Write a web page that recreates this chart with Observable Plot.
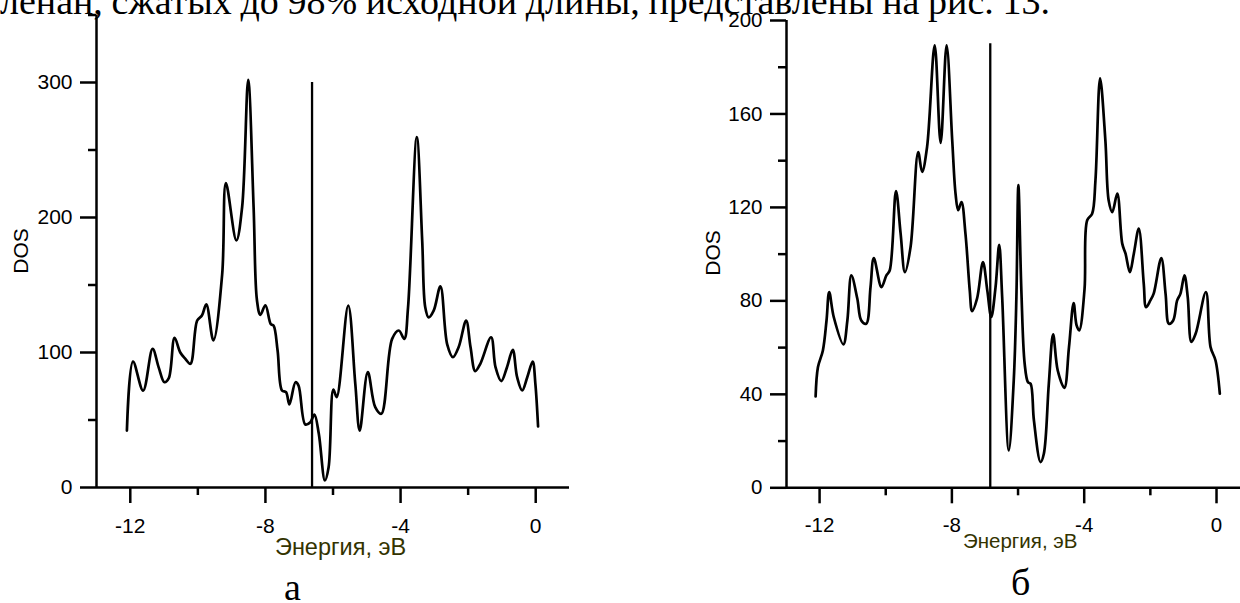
<!DOCTYPE html>
<html>
<head>
<meta charset="utf-8">
<script src="https://cdn.jsdelivr.net/npm/d3@7"></script>
<script src="https://cdn.jsdelivr.net/npm/@observablehq/plot@0.6"></script>
<style>
  html, body { margin: 0; padding: 0; background: #ffffff; }
  #page { position: relative; width: 1240px; height: 603px; overflow: hidden; background: #ffffff; }
  .abs { position: absolute; white-space: nowrap; line-height: 1; }
  .sans { font-family: "Liberation Sans", Arial, sans-serif; color: #000; }
  .serif { font-family: "Liberation Serif", "Times New Roman", serif; color: #000; }
  .xt { color: #333300; }
  .rot { transform: translate(-50%, -50%) rotate(-90deg); }
  svg { overflow: visible; }
</style>
</head>
<body>
<div id="page">
  <div id="chartA" class="abs" style="left:0;top:0"></div>
  <div id="chartB" class="abs" style="left:620px;top:0"></div>
  <div id="topline" class="abs serif" style="left:0;top:-18px;font-size:38px">ленан, сжатых до 98% исходной длины, представлены на рис. 13.</div>
  <div class="abs sans rot" style="left:20px;top:251px;font-size:21px">DOS</div>
  <div class="abs sans rot" style="left:712px;top:253px;font-size:21px">DOS</div>
  <div class="abs sans xt" style="left:275px;top:535.5px;font-size:23.5px">Энергия, эВ</div>
  <div class="abs sans xt" style="left:963px;top:531px;font-size:20.5px">Энергия, эВ</div>
  <div class="abs serif" style="left:284px;top:568px;font-size:38px">а</div>
  <div class="abs serif" style="left:1011px;top:563px;font-size:38px">б</div>
</div>
<script>
// ---- data: panel а ----
const energyA = [-12.10,-11.92,-11.62,-11.34,-11.16,-10.99,-10.86,-10.69,-10.52,-10.37,-10.22,-10.02,-9.88,-9.75,-9.54,-9.28,-9.17,-8.86,-8.69,-8.51,-8.35,-8.25,-8.15,-8.00,-7.84,-7.76,-7.64,-7.51,-7.39,-7.29,-7.11,-7.02,-6.82,-6.67,-6.55,-6.42,-6.24,-6.13,-5.99,-5.89,-5.55,-5.34,-5.21,-4.97,-4.75,-4.57,-4.25,-4.05,-3.89,-3.78,-3.52,-3.36,-3.27,-3.17,-3.02,-2.82,-2.62,-2.45,-2.28,-2.06,-1.93,-1.79,-1.64,-1.32,-1.19,-1.02,-0.85,-0.68,-0.55,-0.40,-0.25,-0.09,-0.01,0.07];
const dosA = [42.2,93.3,71.8,102.7,89,78,81,110.9,100,95.3,91.6,123.7,127.4,135.6,109,158,225.4,183,207.6,302,207.6,138.5,127.9,135,121,120,101.5,71.9,70.6,61.5,78,75.5,46.7,48.4,54,39.8,5.2,15,72.5,67,134.8,76.8,42.2,85.4,59.5,54.6,110.1,116.3,110.1,133,259.5,183,133.5,126,131,149,106,96.5,104,123.7,104,86.2,91.6,111.3,89.1,78.8,89.1,102,81.7,71.9,81.7,93.3,76.8,45.2];
const markerA = [{e: -6.62, top: 300}];

// ---- data: panel б ----
const energyB = [-12.12,-12.05,-11.90,-11.79,-11.71,-11.57,-11.28,-11.16,-11.04,-10.86,-10.74,-10.59,-10.46,-10.36,-10.13,-9.98,-9.88,-9.69,-9.55,-9.42,-9.25,-9.02,-8.90,-8.75,-8.52,-8.34,-8.16,-7.99,-7.89,-7.81,-7.71,-7.59,-7.46,-7.39,-7.24,-7.06,-6.93,-6.81,-6.68,-6.57,-6.48,-6.28,-6.13,-6.05,-5.99,-5.90,-5.80,-5.70,-5.62,-5.52,-5.32,-5.22,-5.07,-4.94,-4.80,-4.60,-4.46,-4.32,-4.23,-4.15,-3.99,-3.91,-3.76,-3.66,-3.52,-3.36,-3.26,-3.15,-3.00,-2.85,-2.75,-2.62,-2.50,-2.35,-2.20,-2.13,-2.00,-1.90,-1.67,-1.54,-1.44,-1.31,-1.19,-1.09,-0.97,-0.87,-0.76,-0.63,-0.32,-0.18,-0.03,0.10];
const dosB = [39.1,51.6,58.8,71.6,83.8,73,61.4,71.6,90.9,81,71.6,70.2,85.9,98.3,85.9,90.9,93,127,108.8,92.3,103,143.7,135.2,145.9,189.4,147.6,189.4,148.7,125.9,118.8,122.3,108.8,84.5,75.6,81,96.6,84.5,73.1,85.9,104,81.6,16,46,81.6,129.5,84.5,53.1,45.2,44.5,28.8,11,14.6,44.5,65.7,50.2,42.8,60.2,79.1,69.5,67.4,85,114.5,117.3,131.6,175.2,148.7,123,118,125.9,104.5,100.2,92.3,100.2,110.9,87.4,77.3,80.2,83.1,98.3,83,70.2,71.6,80.2,83.1,90.9,81.6,62.4,66,83.8,60.2,54.5,40.3];
const markerB = [{e: -6.84, top: 190}];

// ---- tick values ----
const xMajorTicks = [-12, -8, -4, 0];
const xMinorTicks = [-10, -6, -2];
const yMajorA = [0, 100, 200, 300];
const yMinorA = [50, 150, 250, 350];
const yMajorB = [0, 40, 80, 120, 160, 200];
const yMinorB = [20, 60, 100, 140, 180];

const tableA = energyA.map((e, i) => ({e, d: dosA[i]}));
const tableB = energyB.map((e, i) => ({e, d: dosB[i]}));

const SW = 2.5;
function panel({data, marker, width, marginLeft, marginRight, marginTop, marginBottom, xDomain, yDomain, yMajor, yMinor, fontSize, xPad}) {
  return Plot.plot({
    width, height: 603, marginLeft, marginRight, marginTop, marginBottom,
    x: {domain: xDomain},
    y: {domain: yDomain},
    style: {fontFamily: '"Liberation Sans", Arial, sans-serif', fontSize: fontSize + "px", color: "#000", background: "transparent", overflow: "visible"},
    marks: [
      Plot.axisX({ticks: xMajorTicks, tickSize: 16, tickPadding: xPad, strokeWidth: SW, label: null, tickFormat: d => String(d), fontSize}),
      Plot.axisX({ticks: xMinorTicks, tickSize: 8, strokeWidth: SW, label: null, tickFormat: () => ""}),
      Plot.axisY({ticks: yMajor, tickSize: 16, tickPadding: 8, strokeWidth: SW, label: null, tickFormat: d => String(d), fontSize}),
      Plot.axisY({ticks: yMinor, tickSize: 8, strokeWidth: SW, label: null, tickFormat: () => ""}),
      Plot.ruleX([xDomain[0]], {strokeWidth: SW, stroke: "#000"}),
      Plot.ruleY([0], {strokeWidth: SW, stroke: "#000"}),
      Plot.ruleX(marker, {x: "e", y1: () => 0, y2: d => d.top, strokeWidth: 2.3, stroke: "#000"}),
      Plot.line(data, {x: "e", y: "d", curve: "catmull-rom", stroke: "#000", strokeWidth: 2.7})
    ]
  });
}

document.getElementById("chartA").appendChild(panel({
  data: tableA, marker: markerA, width: 600, marginLeft: 96, marginRight: 31, marginTop: 14.5, marginBottom: 116,
  xDomain: [-13, 1], yDomain: [0, 350], yMajor: yMajorA, yMinor: yMinorA, fontSize: 21, xPad: 15
}));
document.getElementById("chartB").appendChild(panel({
  data: tableB, marker: markerB, width: 620, marginLeft: 166, marginRight: 0, marginTop: 20, marginBottom: 115.7,
  xDomain: [-13, 0.725], yDomain: [0, 200], yMajor: yMajorB, yMinor: yMinorB, fontSize: 20.5, xPad: 14
}));

// stretch the cut-off text line to its width in the reference
const tl = document.getElementById("topline");
const words = tl.textContent.split(" ").length - 1;
const w = tl.getBoundingClientRect().width;
tl.style.wordSpacing = ((1050 - w) / words) + "px";
</script>
</body>
</html>
